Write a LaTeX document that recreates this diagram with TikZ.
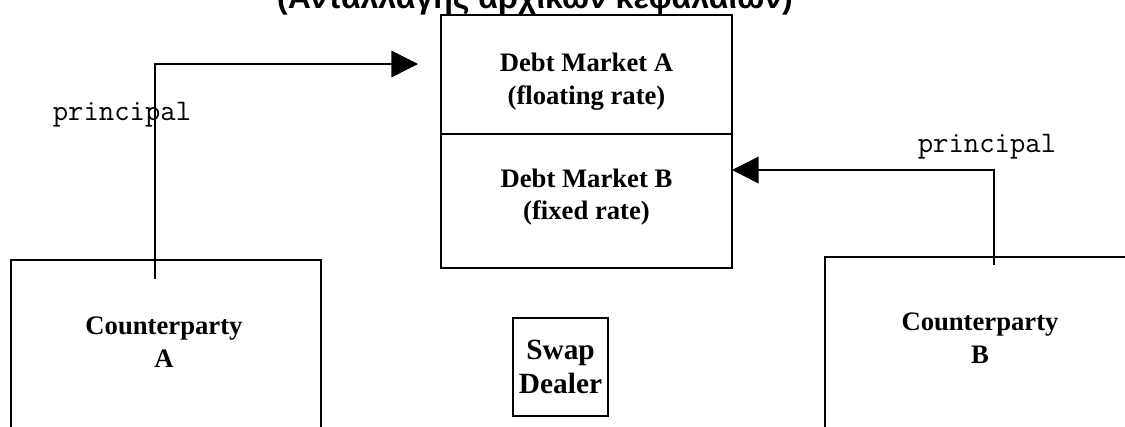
\documentclass[tikz,border=0pt]{standalone}
\usepackage{fontspec}
\setmainfont{Liberation Serif}
\newfontfamily\greekfont{Liberation Sans}
\usetikzlibrary{arrows.meta}
\usetikzlibrary{positioning}
\tikzset{box/.style = {draw, line width=1.5pt, rectangle, inner sep=0, outer sep=0, align=center,
                       font=\fontsize{20}{24.5}\selectfont\bfseries}}
\tikzset{flow/.style = {line width=1.1pt, -{Triangle[length=20pt, width=20pt]}}}
\tikzset{lbl/.style = {font=\fontsize{22.4}{24}\selectfont\ttfamily, inner sep=0}}

\begin{document}
\begin{tikzpicture}[x=0.75pt, y=-0.75pt]
      \useasboundingbox (0, 0) rectangle (1125, 426);
      \clip (0, 0) rectangle (1125, 426);

      \node [anchor=base, font=\fontsize{24}{28}\selectfont\greekfont\bfseries] (title) at (535, 8) {(Ανταλλαγής αρχικών κεφαλαίων)};

      \node [box, minimum width=218.25pt, minimum height=89.25pt] (mktA) at (586.5, 74.5) {};
      \node [box, minimum width=218.25pt, minimum height=100.5pt, below=0pt of mktA] (mktB) {};
      \node [box, draw=none] (mktAtext) at (586.5, 82) {Debt Market A\\(floating rate)};
      \node [box, draw=none] (mktBtext) at (586.5, 197) {Debt Market B\\(fixed rate)};

      \node [box, minimum width=71.25pt, minimum height=73.5pt, font=\fontsize{22}{26}\selectfont\bfseries] (dealer) at (560.5, 367) {Swap\\Dealer};

      \node [box, minimum width=232.5pt, minimum height=150pt] (cpA) at (166, 360) {};
      \node [box, draw=none] (cpAtext) at (164, 342) {Counterparty\\A};
      \node [box, minimum width=232.5pt, minimum height=150pt] (cpB) at (980, 357) {};
      \node [box, draw=none] (cpBtext) at (980, 338) {Counterparty\\B};

      \coordinate (startA) at (155, 279);
      \coordinate (tipA) at (418, 64);
      \coordinate (startB) at (994, 265);
      \coordinate (tipB) at (mktB.east |- 0, 170);

      \draw [flow] (startA) |- (tipA);
      \draw [flow] (startB) |- (tipB);

      \node [lbl] (prinA) at (122, 115) {principal};
      \node [lbl] (prinB) at (987, 147) {principal};
    \end{tikzpicture}
\end{document}
